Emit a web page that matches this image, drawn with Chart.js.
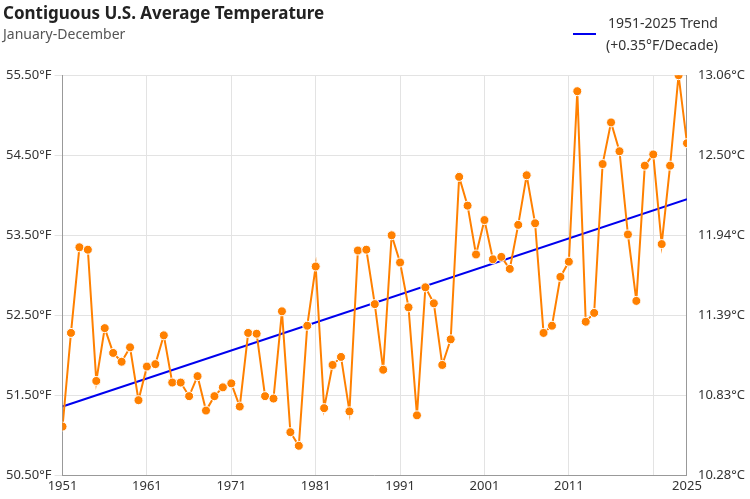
<!DOCTYPE html>
<html><head><meta charset="utf-8">
<script src="https://cdn.jsdelivr.net/npm/chart.js@4"></script>
<style>html,body{margin:0;padding:0;background:#fff}#w{width:750px;height:499px}</style>
</head><body><div id="w"><canvas id="c"></canvas></div>
<script>
const years = [];
for (let y = 1951; y <= 2025; y++) years.push(y);
const temps = [51.11,52.28,53.35,53.32,51.68,52.34,52.03,51.92,52.10,51.44,
51.86,51.89,52.25,51.66,51.66,51.49,51.74,51.31,51.49,51.60,
51.65,51.36,52.28,52.27,51.49,51.46,52.55,51.04,50.87,52.37,
53.11,51.34,51.88,51.98,51.30,53.31,53.32,52.64,51.82,53.50,
53.16,52.60,51.25,52.85,52.65,51.88,52.20,54.23,53.87,53.26,
53.69,53.20,53.23,53.08,53.63,54.25,53.65,52.28,52.37,52.98,
53.17,55.30,52.42,52.53,54.39,54.91,54.55,53.51,52.68,54.37,
54.51,53.39,54.37,55.50,54.65];
const trendYears = [1951, 2025];
const trendVals = [51.36, 53.95];
const xTicks = [1951,1961,1971,1981,1991,2001,2011,2021,2025];
const xLabels = ['1951','1961','1971','1981','1991','2001','2011','','2025'];
const fTicks = [50.5,51.5,52.5,53.5,54.5,55.5];
const cLabels = ['10.28°C','10.83°C','11.39°C','11.94°C','12.50°C','13.06°C'];
const FONT = "'Noto Sans', sans-serif";

const legendPlugin = {
  id: 'lg',
  afterDraw(chart) {
    const ctx = chart.ctx;
    ctx.save();
    ctx.strokeStyle = '#0000ee'; ctx.lineWidth = 2;
    ctx.beginPath(); ctx.moveTo(573, 34); ctx.lineTo(596, 34); ctx.stroke();
    ctx.fillStyle = '#333'; ctx.font = "14px " + FONT; ctx.textBaseline = 'middle';
    ctx.fillText('1951-2025 Trend', 608, 24);
    ctx.fillText('(+0.35°F/Decade)', 606, 46);
    ctx.restore();
  }
};

new Chart(document.getElementById('c'), {
  type: 'line',
  data: {
    datasets: [
      { data: trendYears.map((x, i) => ({x, y: trendVals[i]})), borderColor: '#0000ee', borderWidth: 2, pointRadius: 0, order: 2 },
      { data: years.map((x, i) => ({x, y: temps[i]})), borderColor: '#ff8000', borderWidth: 2,
        pointRadius: 4.5, pointBackgroundColor: '#ff8000', pointBorderColor: '#fff', pointBorderWidth: 1, order: 1 }
    ]
  },
  options: {
    responsive: true, maintainAspectRatio: false, animation: false,
    layout: { padding: { left: 3, right: 2, top: 2, bottom: 2 } },
    plugins: {
      legend: { display: false }, tooltip: { enabled: false },
      title: { display: true, text: 'Contiguous U.S. Average Temperature', align: 'start', color: '#222',
        font: { family: FONT, size: 17, weight: 'bold' }, padding: { top: 2, bottom: 2 } },
      subtitle: { display: true, text: 'January-December', align: 'start', color: '#555',
        font: { family: FONT, size: 14 }, padding: { bottom: 32 } }
    },
    scales: {
      x: { type: 'linear', min: 1951, max: 2025,
        afterBuildTicks(a) { a.ticks = xTicks.map(v => ({value: v})); },
        ticks: { color: '#333', font: { family: FONT, size: 13 }, maxRotation: 0, autoSkip: false, callback: (v, i) => xLabels[i] },
        grid: { color: '#e3e3e3', drawTicks: false }, border: { color: '#999' } },
      y: { position: 'left', min: 50.5, max: 55.5,
        afterBuildTicks(a) { a.ticks = fTicks.map(v => ({value: v})); },
        ticks: { color: '#333', font: { family: FONT, size: 13 }, callback: v => v.toFixed(2) + '°F' },
        grid: { color: '#e3e3e3' }, border: { color: '#999' } },
      y2: { position: 'right', min: 50.5, max: 55.5,
        afterBuildTicks(a) { a.ticks = fTicks.map(v => ({value: v})); },
        ticks: { color: '#333', font: { family: FONT, size: 13 }, callback: (v, i) => cLabels[i] },
        grid: { display: false }, border: { color: '#999' } }
    }
  },
  plugins: [legendPlugin]
});
</script></body></html>
